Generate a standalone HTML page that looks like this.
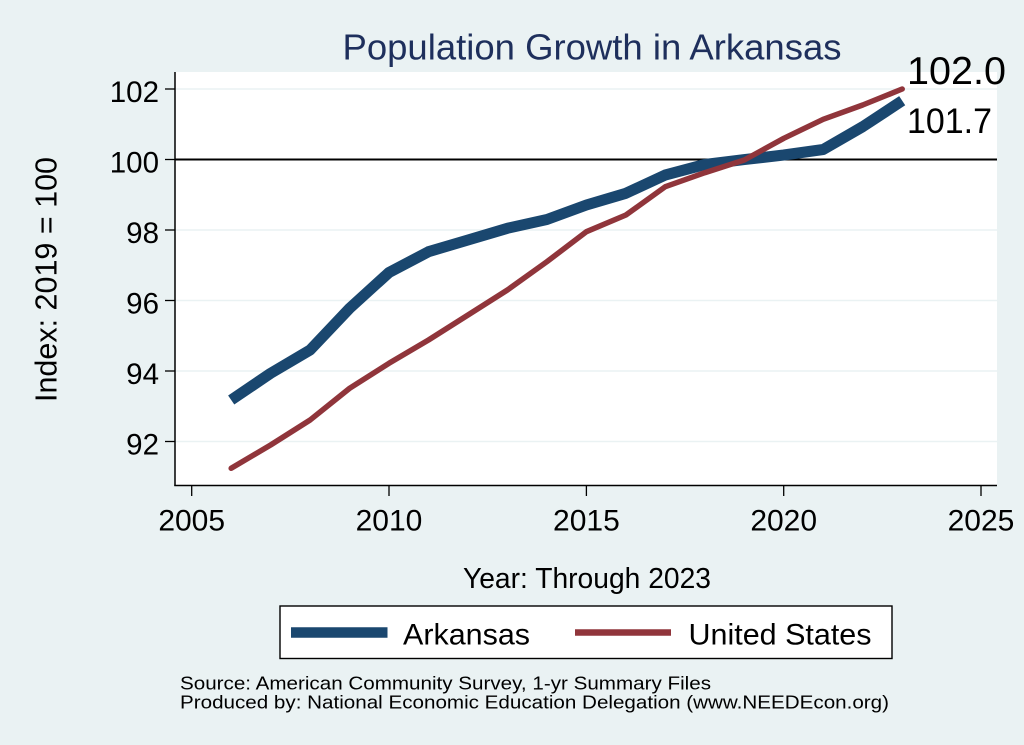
<!DOCTYPE html>
<html>
<head>
<meta charset="utf-8">
<style>
html,body{margin:0;padding:0;background:#eaf2f3;}
svg{display:block;}
text{font-family:"Liberation Sans",Arial,sans-serif;}
</style>
</head>
<body>
<svg width="1024" height="745" viewBox="0 0 1024 745" xmlns="http://www.w3.org/2000/svg">
  <rect x="0" y="0" width="1024" height="745" fill="#eaf2f3"/>
  <!-- plot region -->
  <rect x="175" y="72" width="822" height="414" fill="#ffffff"/>
  <!-- gridlines -->
  <g stroke="#eaf2f3" stroke-width="1.6">
    <line x1="175" y1="89" x2="997" y2="89"/>
    <line x1="175" y1="230" x2="997" y2="230"/>
    <line x1="175" y1="300.5" x2="997" y2="300.5"/>
    <line x1="175" y1="371" x2="997" y2="371"/>
    <line x1="175" y1="441.5" x2="997" y2="441.5"/>
  </g>
  <!-- reference line at 100 -->
  <line x1="175" y1="159.5" x2="997" y2="159.5" stroke="#000" stroke-width="2"/>
  <!-- axes -->
  <line x1="175" y1="72" x2="175" y2="486" stroke="#000" stroke-width="1.5"/>
  <line x1="174.3" y1="485.5" x2="997" y2="485.5" stroke="#000" stroke-width="1.5"/>
  <!-- y ticks -->
  <g stroke="#000" stroke-width="1.3">
    <line x1="165" y1="89" x2="175" y2="89"/>
    <line x1="165" y1="159.5" x2="175" y2="159.5"/>
    <line x1="165" y1="230" x2="175" y2="230"/>
    <line x1="165" y1="300.5" x2="175" y2="300.5"/>
    <line x1="165" y1="371" x2="175" y2="371"/>
    <line x1="165" y1="441.5" x2="175" y2="441.5"/>
  </g>
  <g font-size="29.5" fill="#000" text-anchor="end">
    <text x="159" y="102">102</text>
    <text x="159" y="172.5">100</text>
    <text x="159" y="243">98</text>
    <text x="159" y="313.5">96</text>
    <text x="159" y="384">94</text>
    <text x="159" y="454.5">92</text>
  </g>
  <!-- x ticks -->
  <g stroke="#000" stroke-width="1.3">
    <line x1="191.7" y1="486" x2="191.7" y2="496"/>
    <line x1="389" y1="486" x2="389" y2="496"/>
    <line x1="586.4" y1="486" x2="586.4" y2="496"/>
    <line x1="783.7" y1="486" x2="783.7" y2="496"/>
    <line x1="981" y1="486" x2="981" y2="496"/>
  </g>
  <g font-size="30" fill="#000" text-anchor="middle">
    <text x="191.7" y="530.5">2005</text>
    <text x="389" y="530.5">2010</text>
    <text x="586.4" y="530.5">2015</text>
    <text x="783.7" y="530.5">2020</text>
    <text x="981" y="530.5">2025</text>
  </g>
  <!-- axis titles -->
  <text x="587" y="588" font-size="29" text-anchor="middle" fill="#000" textLength="248" lengthAdjust="spacingAndGlyphs">Year: Through 2023</text>
  <text transform="translate(56.5,279.5) rotate(-90)" font-size="31" text-anchor="middle" fill="#000" textLength="245" lengthAdjust="spacingAndGlyphs">Index: 2019 = 100</text>
  <!-- title -->
  <text x="592" y="59.5" font-size="36" text-anchor="middle" fill="#1e2f5c" textLength="499" lengthAdjust="spacingAndGlyphs">Population Growth in Arkansas</text>
  <!-- series -->
  <polyline fill="none" stroke="#1a476f" stroke-width="11" stroke-linejoin="round" stroke-linecap="butt"
    points="231.2,400 270.6,373.3 310.1,350 349.6,308.3 389,272.5 428.5,251.7 468,240 507.4,228.3 546.9,219.5 586.4,205 625.9,193.3 665.3,175 704.8,164.5 744.3,159.6 783.8,155 823.2,149.5 862.7,126.7 902.2,100.7"/>
  <polyline fill="none" stroke="#90353b" stroke-width="5.5" stroke-linejoin="round" stroke-linecap="round"
    points="231.2,468.3 270.6,445 310.1,420 349.6,388.3 389,363.3 428.5,340 468,315 507.4,290 546.9,261.7 586.4,231.7 625.9,215 665.3,186.7 704.8,172.7 744.3,160 783.8,138.3 823.2,119.3 862.7,105 902.2,89"/>
  <!-- end labels -->
  <text x="907" y="84" font-size="38.5" fill="#000" textLength="99" lengthAdjust="spacingAndGlyphs">102.0</text>
  <text x="907" y="133" font-size="35" fill="#000" textLength="85" lengthAdjust="spacingAndGlyphs">101.7</text>
  <!-- legend -->
  <rect x="280" y="606" width="612" height="52.5" fill="#ffffff" stroke="#000" stroke-width="1.4"/>
  <line x1="291" y1="632.5" x2="387.5" y2="632.5" stroke="#1a476f" stroke-width="10.5"/>
  <text x="403" y="644.5" font-size="30" fill="#000" textLength="127" lengthAdjust="spacingAndGlyphs">Arkansas</text>
  <line x1="575" y1="632.5" x2="671" y2="632.5" stroke="#90353b" stroke-width="6.5"/>
  <text x="688.5" y="644.5" font-size="30" fill="#000" textLength="183" lengthAdjust="spacingAndGlyphs">United States</text>
  <!-- notes -->
  <text x="180" y="689.3" font-size="18.6" fill="#000" textLength="531" lengthAdjust="spacingAndGlyphs">Source: American Community Survey, 1-yr Summary Files</text>
  <text x="180" y="708.3" font-size="18.6" fill="#000" textLength="709" lengthAdjust="spacingAndGlyphs">Produced by: National Economic Education Delegation (www.NEEDEcon.org)</text>
</svg>
</body>
</html>
